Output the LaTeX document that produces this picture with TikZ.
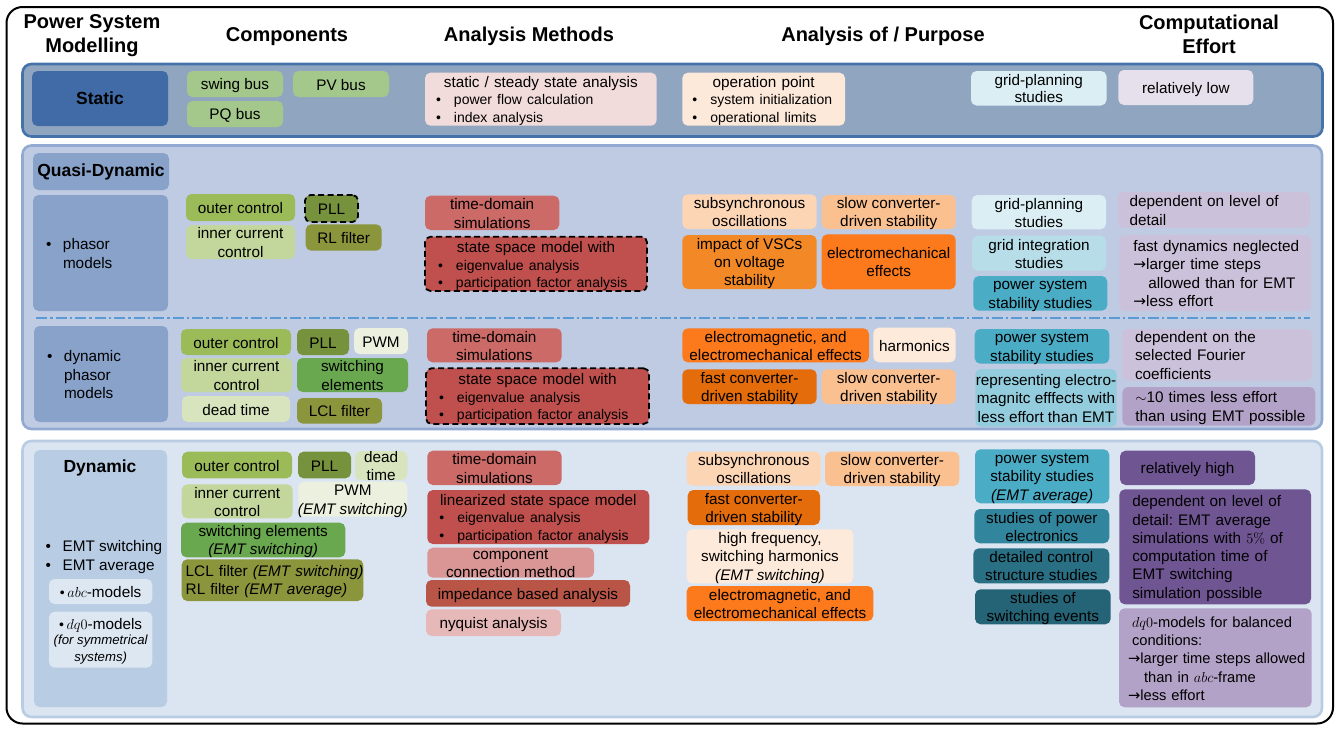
\documentclass[tikz,border=0pt]{standalone}
\usepackage[no-math]{fontspec}
\setmainfont{Liberation Sans}
\newfontfamily\dvfont{DejaVu Sans}
\frenchspacing
\definecolor{stPanel}{RGB}{144,165,191}
\definecolor{stBorder}{RGB}{70,114,170}
\definecolor{stLabel}{RGB}{64,107,166}
\definecolor{qdPanel}{RGB}{191,203,226}
\definecolor{qdBorder}{RGB}{146,170,210}
\definecolor{qdLabel}{RGB}{136,162,202}
\definecolor{dyPanel}{RGB}{219,229,241}
\definecolor{dyBorder}{RGB}{184,204,228}
\definecolor{dyLabel}{RGB}{184,204,228}
\definecolor{dySub}{RGB}{221,231,242}
\definecolor{gBus}{RGB}{164,200,140}
\definecolor{gOuter}{RGB}{155,187,89}
\definecolor{gPLL}{RGB}{118,146,60}
\definecolor{gInner}{RGB}{195,214,155}
\definecolor{gSwitch}{RGB}{106,168,79}
\definecolor{gFilter}{RGB}{138,149,60}
\definecolor{gPWM}{RGB}{235,241,222}
\definecolor{gDead}{RGB}{215,228,189}
\definecolor{rStatic}{RGB}{242,220,219}
\definecolor{rTime}{RGB}{204,106,104}
\definecolor{rState}{RGB}{192,80,77}
\definecolor{rComp}{RGB}{218,150,148}
\definecolor{rImp}{RGB}{184,85,70}
\definecolor{rNyq}{RGB}{230,185,184}
\definecolor{oOp}{RGB}{253,233,217}
\definecolor{oSub}{RGB}{252,213,181}
\definecolor{oSlow}{RGB}{250,192,144}
\definecolor{oVSC}{RGB}{242,137,38}
\definecolor{oEM}{RGB}{252,121,28}
\definecolor{oHarm}{RGB}{253,234,218}
\definecolor{oFast}{RGB}{228,108,10}
\definecolor{cPlan}{RGB}{219,238,244}
\definecolor{cInt}{RGB}{183,222,232}
\definecolor{cPSS}{RGB}{75,172,198}
\definecolor{cRep}{RGB}{147,205,221}
\definecolor{cPE}{RGB}{49,133,156}
\definecolor{cDet}{RGB}{42,112,133}
\definecolor{cSw}{RGB}{37,99,118}
\definecolor{pLow}{RGB}{229,224,236}
\definecolor{pDep}{RGB}{204,193,218}
\definecolor{pTen}{RGB}{179,162,199}
\definecolor{pHigh}{RGB}{112,85,147}
\definecolor{dashBlue}{RGB}{91,155,213}

\newcommand\fs{\fontsize{15.3}{18.3}\selectfont}
\newcommand\sm{\fontsize{14}{16.8}\selectfont}
\newcommand\bl[1]{{\sm\makebox[18pt][l]{•}#1}}
\newcommand\ctl[1]{\makebox[\linewidth]{#1}}
\newcommand\arr{{\dvfont →}}
\newcommand\topstrut{\rule{0pt}{14.5pt}}
\newcommand\botstrut{\rule[-2.5pt]{0pt}{2.5pt}}

\tikzset{
 box/.style={rounded corners=5.5pt, inner xsep=-4pt, inner ysep=-5pt, align=center, font=\fs},
 dashbox/.style={draw=black, line width=1.8pt, dash pattern=on 6pt off 3.5pt},
 panel/.style={rounded corners=9pt, line width=2.6pt},
 hdr/.style={font=\bfseries\fontsize{20}{24}\selectfont, align=center, inner sep=0pt},
 lbl/.style={font=\bfseries\fontsize{17.5}{21}\selectfont},
 sepline/.style={draw=dashBlue, line width=1.3pt, dash pattern=on 11pt off 3pt on 2.5pt off 3pt},
 plain/.style={font=\fs, inner sep=0pt},
}

\newcommand\B[7]{\node[box,#2,minimum width={(#5)-(#3)},minimum height={(#6)-(#4)}] (#1) at ({((#3)+(#5))/2},{((#4)+(#6))/2}) {\topstrut#7\botstrut};}
\newcommand\LB[8]{\pgfmathsetmacro\tw{(#5)-(#3)-2*(#7)}\node[box,#2,align=left,text width=\tw pt,minimum width={(#5)-(#3)},minimum height={(#6)-(#4)}] (#1) at ({((#3)+(#5))/2},{((#4)+(#6))/2}) {\topstrut#8\botstrut};}

\begin{document}
\begin{tikzpicture}[x=1pt,y=-1pt]
\useasboundingbox (0,0) rectangle (1337,728);

% frame and panels
\B{frame}{draw=black,line width=2pt,rounded corners=16pt}{6.5}{7}{1333}{723.5}{}
\B{stP}{panel,fill=stPanel,draw=stBorder}{22.5}{64}{1322.5}{136.5}{}
\B{qdP}{panel,fill=qdPanel,draw=qdBorder}{22.5}{145.5}{1322}{429}{}
\B{dyP}{panel,fill=dyPanel,draw=dyBorder}{22.5}{441}{1322}{717}{}

% headers
\node[hdr] (h1) at (92,36) {Power System\\Modelling};
\node[hdr] (h2) at (287,36.5) {Components};
\node[hdr] (h3) at (529,36.5) {Analysis Methods};
\node[hdr] (h4) at (883,36.5) {Analysis of / Purpose};
\node[hdr] (h5) at (1209,34.5) {Computational\\Effort};

% ---------- Static ----------
\B{stL}{fill=stLabel,lbl}{32}{71}{168}{126}{Static}
\B{swing}{fill=gBus}{187}{71}{283}{97}{swing bus}
\B{pv}{fill=gBus}{293}{71}{389}{97}{PV bus}
\B{pq}{fill=gBus}{187}{101}{283}{127}{PQ bus}
\LB{sa}{fill=rStatic}{425}{72.7}{656.7}{125.7}{11}{\ctl{static / steady state analysis}\\[-1.1pt]\bl{power flow calculation}\\[-1.1pt]\bl{index analysis}}
\LB{op}{fill=oOp}{682.3}{72.7}{845}{125.7}{10}{\ctl{operation point}\\[-1.1pt]\bl{system initialization}\\[-1.1pt]\bl{operational limits}}
\B{gp0}{fill=cPlan}{971}{71}{1106.5}{105.5}{grid-planning\\[-1pt]studies}
\B{low}{fill=pLow}{1118.3}{70}{1253.3}{105}{relatively low}

% ---------- Quasi-Dynamic ----------
\B{qdL}{fill=qdLabel,lbl}{33}{153}{169}{190}{Quasi-Dynamic}
\LB{phL}{fill=qdLabel}{33}{195}{168}{311}{13}{\mbox{\makebox[17pt][l]{•}phasor}\\\mbox{\hspace*{17pt}models}}
\coordinate (dl1) at (36,318);
\coordinate (dl2) at (1310,318);
\draw[sepline] (dl1) -- (dl2);
\LB{dpL}{fill=qdLabel}{34}{326}{168}{422}{13}{\mbox{\makebox[17pt][l]{•}dynamic}\\\mbox{\hspace*{17pt}phasor}\\\mbox{\hspace*{17pt}models}}

% components (phasor)
\B{co1}{fill=gOuter}{186}{194}{295}{221}{outer control}
\B{pll1}{fill=gPLL,dashbox}{305}{195}{358}{222}{PLL}
\B{icc1}{fill=gInner}{186}{225}{295}{259}{inner current\\control}
\B{rl1}{fill=gFilter}{305.7}{224.3}{381.7}{250.7}{RL filter}
% components (dynamic phasor)
\B{co2}{fill=gOuter}{181}{329}{291}{355}{outer control}
\B{pll2}{fill=gPLL}{297}{329}{349}{355}{PLL}
\B{pwm2}{fill=gPWM}{354}{328}{408}{354}{PWM}
\B{icc2}{fill=gInner}{181}{358}{292}{392}{inner current\\control}
\B{sw2}{fill=gSwitch}{297}{358}{408}{392}{switching\\elements}
\B{dt2}{fill=gDead}{182}{396}{290}{422}{dead time}
\B{lcl2}{fill=gFilter}{297}{398}{382}{423.5}{LCL filter}

% analysis methods (quasi)
\B{td1}{fill=rTime}{425}{195.7}{559.3}{230}{time-domain\\simulations}
\LB{ss1}{fill=rState,dashbox}{425}{236.7}{647}{291}{13}{\ctl{state space model with}\\\bl{eigenvalue analysis}\\[-1.5pt]\bl{participation factor analysis}}
\B{td2}{fill=rTime}{427}{328.3}{561.7}{362.3}{time-domain\\simulations}
\LB{ss2}{fill=rState,dashbox}{426}{368.3}{649}{424}{13}{\ctl{state space model with}\\\bl{eigenvalue analysis}\\[-1.5pt]\bl{participation factor analysis}}

% purpose (quasi)
\B{sub1}{fill=oSub}{682.3}{194.3}{816.7}{229}{subsynchronous\\oscillations}
\B{slow1}{fill=oSlow}{821.7}{195}{955.7}{229}{slow converter-\\driven stability}
\B{vsc1}{fill=oVSC}{682.3}{235}{816.7}{289}{impact of VSCs\\on voltage\\stability}
\B{em1}{fill=oEM}{821.7}{234.3}{955.7}{289.3}{electromechanical\\effects}
\B{emag2}{fill=oEM}{682.3}{328.3}{869}{362.3}{electromagnetic, and\\electromechanical effects}
\B{harm2}{fill=oHarm}{873.3}{327.7}{955.7}{362.3}{harmonics}
\B{fast2}{fill=oFast}{682.3}{369.3}{816.7}{404}{fast converter-\\driven stability}
\B{slow2}{fill=oSlow}{821.7}{369.3}{955.7}{404}{slow converter-\\driven stability}

% purpose col 2 (quasi)
\B{gp1}{fill=cPlan}{971.7}{195}{1106}{229.3}{grid-planning\\studies}
\B{gi1}{fill=cInt}{972}{235.7}{1106}{270.7}{grid integration\\studies}
\B{pss1}{fill=cPSS}{973.3}{276}{1107.3}{310.7}{power system\\stability studies}
\B{pss2}{fill=cPSS}{974.7}{329}{1109.3}{363.7}{power system\\stability studies}
\B{rep2}{fill=cRep}{975.3}{369}{1116.7}{426.7}{representing electro-\\magnitc efffects with\\less effort than EMT}

% effort (quasi)
\LB{dep1}{fill=pDep}{1117.7}{192}{1310}{227.7}{12}{\mbox{dependent on level of}\\\mbox{detail}}
\LB{fd1}{fill=pDep}{1119.3}{235}{1311}{311}{14}{\mbox{fast dynamics neglected}\\\mbox{\arr larger time steps}\\\mbox{\hspace*{15pt}allowed than for EMT}\\\mbox{\arr less effort}}
\LB{dep2}{fill=pDep}{1122}{329}{1312.3}{380.7}{13}{\mbox{dependent on the}\\\mbox{selected Fourier}\\\mbox{coefficients}}
\LB{ten2}{fill=pTen}{1122.3}{387}{1315.3}{425.7}{13}{\mbox{$\sim$10 times less effort}\\\mbox{than using EMT possible}}

% ---------- Dynamic ----------
\B{dyL}{fill=dyLabel}{34}{450}{167}{707}{}
\node[lbl,inner sep=0pt] (dyT) at (100,468) {Dynamic};
\node[plain,align=left,anchor=west] (dyE) at (45.5,557) {\makebox[17pt][l]{•}EMT switching\\\makebox[17pt][l]{•}EMT average};
\B{abc}{fill=dySub}{49}{579}{152.3}{604}{{\sm•}\,$abc$-models}
\B{dqz}{fill=dySub}{49}{611.7}{152.3}{667.7}{{\sm•}\,$dq0$-models\\[-3pt]{\itshape\fontsize{13.2}{16}\selectfont (for symmetrical}\\[-1.5pt]{\itshape\fontsize{13.2}{16}\selectfont systems)}}

% components (dynamic)
\B{co3}{fill=gOuter}{182}{451.7}{292}{478.3}{outer control}
\B{pll3}{fill=gPLL}{298}{451.7}{351}{478.3}{PLL}
\B{dt3}{fill=gDead}{355}{451}{407.3}{480}{dead\\time}
\B{icc3}{fill=gInner}{181.7}{484.3}{292.7}{518.3}{inner current\\control}
\B{pwm3}{fill=gPWM}{298.3}{481.7}{407.3}{516.7}{PWM\\\textit{(EMT switching)}}
\B{sw3}{fill=gSwitch}{181}{522.7}{345.3}{557.3}{switching elements\\\textit{(EMT switching)}}
\LB{lcl3}{fill=gFilter}{181.7}{559.3}{363.3}{601}{4}{\mbox{LCL filter \textit{(EMT switching)}}\\\mbox{RL filter \textit{(EMT average)}}}

% analysis methods (dynamic)
\B{td3}{fill=rTime}{427.3}{450.7}{561.7}{485}{time-domain\\simulations}
\LB{lin3}{fill=rState}{427.3}{490}{649.3}{544}{12}{\ctl{linearized state space model}\\[-1pt]\bl{eigenvalue analysis}\\[-1pt]\bl{participation factor analysis}}
\B{ccm3}{fill=rComp}{427.3}{547.7}{594}{577.7}{component\\connection method}
\B{imp3}{fill=rImp}{426}{580}{630}{606.7}{impedance based analysis}
\B{nyq3}{fill=rNyq}{426}{609.3}{561}{636}{nyquist analysis}

% purpose (dynamic)
\B{sub3}{fill=oSub}{686.7}{451.7}{820.7}{485.7}{subsynchronous\\oscillations}
\B{slow3}{fill=oSlow}{825}{451.7}{959.3}{486}{slow converter-\\driven stability}
\B{fast3}{fill=oFast}{687.7}{490}{820}{525}{fast converter-\\driven stability}
\B{hf3}{fill=oHarm}{686.7}{529.3}{853.3}{583.3}{high frequency,\\switching harmonics\\\textit{(EMT switching)}}
\B{emag3}{fill=oEM}{686.7}{586}{873.3}{621}{electromagnetic, and\\electromechanical effects}

% purpose col 2 (dynamic)
\B{pss3}{fill=cPSS}{975}{449.3}{1109.3}{503.3}{power system\\stability studies\\\textit{(EMT average)}}
\B{spe3}{fill=cPE}{974.3}{509}{1109.3}{543.3}{studies of power\\electronics}
\B{dcs3}{fill=cDet}{973.3}{548.3}{1109.3}{583.3}{detailed control\\structure studies}
\B{sse3}{fill=cSw}{975}{589.3}{1110.7}{624.3}{studies of\\switching events}

% effort (dynamic)
\B{rh3}{fill=pHigh}{1120}{450.7}{1255}{485}{relatively high}
\LB{dep3}{fill=pHigh}{1119.3}{489.3}{1311}{604.3}{13}{\mbox{dependent on level of}\\\mbox{detail: EMT average}\\\mbox{simulations with $5\%$ of}\\\mbox{computation time of}\\\mbox{EMT switching}\\\mbox{simulation possible}}
\LB{dq3}{fill=pTen,font=\fontsize{14.7}{18.3}\selectfont}{1119}{608.3}{1311.7}{707.3}{9}{\mbox{\hspace*{4pt}$dq0$-models for balanced}\\\mbox{\hspace*{4pt}conditions:}\\\mbox{\arr larger time steps allowed}\\\mbox{\hspace*{16pt}than in $abc$-frame}\\\mbox{\arr less effort}}
\end{tikzpicture}
\end{document}
